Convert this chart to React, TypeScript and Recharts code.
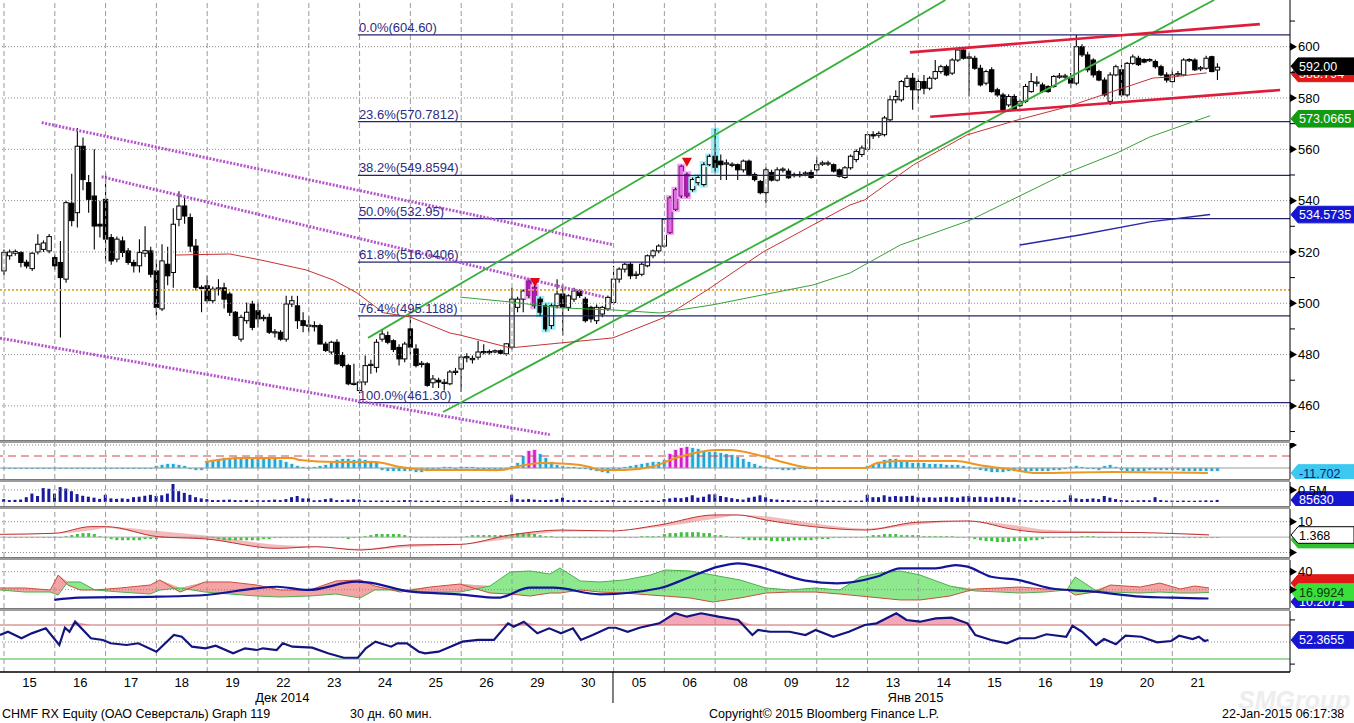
import React from 'react';
import { ComposedChart, Bar, Line, Area, XAxis, YAxis, ReferenceLine, ReferenceDot } from 'recharts';

const CHART_W = 1354;
const AXIS_W = 64;
const X_MIN = -0.71;
const X_MAX = 227.85;
const FONT = '"Liberation Sans", Arial, sans-serif';

// ---------- categories / labels ----------
const dayLabels = ['15', '16', '17', '18', '19', '22', '23', '24', '25', '26', '29', '30', '05', '06', '08', '09', '12', '13', '14', '15', '16', '19', '20', '21'];
const monthTicks = [49.3, 107.9, 161.5];
const monthText: Record<string, string> = { '49.3': 'Дек 2014', '161.5': 'Янв 2015' };
const mainTicks = [450, 460, 470, 480, 490, 500, 510, 520, 530, 540, 550, 560, 570, 580, 590, 600, 610];
const mainMajor = [460, 480, 500, 520, 540, 560, 580, 600];

// ---------- hourly candles [open, high, low, close], 9 per day ----------
const ohlc: number[][] = [
  // 15 Dec
  [512.6, 521, 511, 519.8], [518.5, 521, 517, 520], [519.5, 521, 518.5, 520.2], [519.8, 520.4, 514, 515.9], [516, 517, 513.5, 514.5], [513.5, 520, 512.6, 519.5], [520, 526.9, 519, 523], [521, 524.5, 520, 523.5], [520.4, 527, 519.5, 526],
  // 16
  [517.8, 519, 513, 514.6], [515.9, 524.3, 486.7, 510], [509.4, 540, 508, 539.2], [539, 550.5, 530, 532.2], [535.3, 568.3, 529.5, 561.2], [561.2, 564.6, 544, 548.2], [547, 550, 535.3, 540.5], [541.8, 560, 521, 530.1], [530.8, 540, 525.6, 530.1],
  // 17
  [540.5, 550.8, 515.9, 525], [525.6, 527, 515, 516.5], [517.2, 526, 516, 525], [524.3, 526, 518, 519.8], [520.4, 521.5, 515, 515.9], [515.9, 517, 512, 514.6], [514.6, 524.9, 512, 519.8], [519.5, 530, 518, 520.5], [520.4, 522, 510, 511.3],
  // 18
  [512.6, 517, 495.2, 498.4], [497.8, 523, 497, 516.5], [515.2, 522, 507, 510.7], [512, 537, 506, 530.8], [532.7, 543.7, 530, 537.9], [537.9, 542, 531, 534], [533.4, 535, 520, 522.3], [522.3, 525, 505, 506.2], [506.2, 507, 496.5, 506],
  // 19
  [506.8, 510.7, 500, 501], [501, 506.5, 500, 505.5], [505.5, 509.4, 503, 506], [506, 508, 498, 501.6], [503.6, 504.5, 495, 496.5], [496.5, 497, 487, 487.4], [486, 495.5, 485, 494.5], [493.2, 500.3, 492, 496.5], [499.7, 501, 489.5, 490.6],
  // 22
  [497.1, 500.3, 490.6, 493.9], [494, 495.5, 493, 494.5], [494.5, 496, 488, 488.7], [488.7, 490, 486.7, 488.9], [488.7, 489.5, 485.4, 486], [486, 502.9, 485, 499.7], [499.7, 502.9, 498.5, 501], [499, 502.9, 490, 493.2], [493.2, 496.5, 488.7, 491.3],
  // 23
  [491.3, 495, 488.7, 491.5], [491, 493, 489, 491.3], [491.3, 492, 484, 484.1], [484.1, 485, 481, 481.6], [481, 485.4, 480, 484.8], [484.8, 486, 476, 476.4], [479.6, 481, 475, 475.7], [475.7, 476.4, 468, 468.6], [468.6, 476.4, 467.9, 468.8],
  // 24
  [466, 470.5, 464.8, 469.3], [469.3, 479.6, 468, 475.7], [476, 478, 472.5, 476.2], [475, 486, 473, 484.8], [486, 490, 485, 488], [487.4, 489, 484, 484.8], [485.4, 486, 481, 482], [482.8, 484, 475.7, 478.3], [478.3, 485, 477, 484.1],
  // 25
  [490, 494.5, 479.6, 482.9], [482.2, 484, 475, 475.7], [476.4, 477.5, 475, 476.6], [476.4, 477, 467.5, 468], [469, 472, 467, 470.5], [470, 471, 467, 469.3], [469, 470.5, 466, 469.2], [468.6, 474, 468, 473.2], [473.2, 474.8, 472, 473.5],
  // 26
  [474.4, 480, 465.4, 479], [479, 480.5, 477, 479.2], [478, 479.6, 476.5, 478.5], [479, 485.4, 478, 481], [481, 484, 480, 481.2], [481, 482, 480, 481.2], [481, 482, 480.5, 481.5], [481.5, 482, 480, 480.5], [480.3, 484.5, 479.5, 484.2],
  // 29
  [482.9, 506, 482, 501.6], [498.4, 502.5, 496.5, 501.6], [501.6, 505.5, 496.5, 504.8], [508.7, 509.4, 502, 503], [506.2, 507, 498, 499], [501.6, 502.5, 495, 496.5], [499, 500, 489, 490], [491.3, 500, 490, 499], [499, 509.4, 498, 503.6],
  // 30
  [503.6, 507.4, 487.4, 498.4], [498.4, 503.5, 497, 502.9], [501.6, 506, 500.5, 504.8], [504.8, 505.5, 502, 503], [501.6, 502.5, 492.5, 493.2], [498.4, 499, 492.5, 493.9], [493.2, 499.5, 491.9, 498.4], [495.8, 499, 494.5, 498.4], [497.8, 503, 497, 502.3],
  // 05 Jan
  [500.3, 514.6, 499.5, 509.4], [509.4, 514, 508, 513.3], [513.3, 515.8, 512, 515.2], [515.2, 516, 509.4, 510.7], [511, 512.5, 509.5, 511.3], [511.3, 516, 510.5, 515.2], [514.6, 519, 514, 518.5], [518.5, 521, 517.5, 520.4], [520.4, 523, 519.5, 522.3],
  // 06
  [522.3, 533, 521.5, 532.7], [527.5, 541.8, 527, 541.1], [536.6, 545, 536, 544.3], [541.8, 554, 541, 553.4], [550.2, 551, 541, 541.8], [544.3, 549, 543.5, 548.2], [547, 550, 546, 549], [546.3, 555, 545.5, 554], [554, 558, 553.5, 557.3],
  // 08
  [557.3, 568, 551, 553], [555.4, 558, 548, 554], [554.5, 556, 548, 554.7], [554, 555, 553, 554.2], [554, 554.5, 548, 552], [552, 556, 551, 555.4], [555.4, 556, 549.5, 550.2], [550.2, 551, 547.5, 548.2], [547.5, 548, 542.5, 543.1],
  // 09
  [543.1, 553, 539.2, 552], [551, 552, 547.5, 548], [548, 553, 547.5, 552], [552, 553, 551, 552.3], [551.5, 552.5, 548.5, 548.9], [550, 551, 549, 550.2], [550, 551.5, 549, 550.2], [550.5, 551.5, 549.5, 550.8], [551, 552, 548.5, 549],
  // 12
  [552, 557, 551, 554], [554.2, 555.5, 553.5, 554.7], [554.5, 555.5, 553.5, 554.7], [554, 554.5, 551, 551.5], [552, 552.5, 549, 549.5], [549, 553.5, 548.5, 552.8], [552.8, 558, 552, 557.3], [556, 560, 555, 559.2], [558, 561.5, 557, 560.5],
  // 13
  [560, 567, 559, 565.7], [565.7, 567, 564, 565.5], [565.5, 567, 564.5, 566.2], [565.7, 573, 565, 572.2], [571.5, 581, 571, 579.3], [579.3, 583, 578, 580.6], [579.3, 587, 578.5, 586.4], [584.5, 589, 584, 587.7], [587.7, 589.7, 575.4, 583.2],
  // 14
  [583.2, 587.5, 578, 586.4], [586.4, 589, 581.5, 583.8], [583.8, 588.5, 583, 587.7], [587.7, 594.8, 587, 590.3], [590.3, 593, 589.5, 592.2], [592.2, 593, 588.5, 589], [589.7, 595.5, 589, 594.8], [594.8, 599, 594, 598.7], [598.7, 599.5, 595, 595.5],
  // 15
  [595.5, 597.5, 580.6, 596], [595.5, 596.5, 591, 591.6], [591.6, 593, 584.5, 585.1], [585.8, 591, 585, 590.3], [591, 592, 582, 582.5], [583.2, 584, 580.5, 581.2], [581.2, 582, 575, 575.4], [577.3, 581.5, 576.5, 580.6], [580.6, 581.5, 575, 575.4],
  // 16
  [577, 579.5, 576.5, 578.7], [578.7, 585.5, 578, 584.5], [582.5, 589.7, 582, 586.4], [586, 588.5, 584.5, 586.2], [585.1, 586, 582, 582.5], [584.5, 585, 582, 582.5], [584.5, 589, 584, 588.4], [588.4, 589.7, 587.5, 588.6], [588.4, 589.5, 587.5, 588.6],
  // 19
  [587.7, 589.7, 583.8, 585.8], [585.8, 604.6, 585, 600], [600, 601, 596, 596.8], [596.8, 598, 590, 591], [594.8, 595.5, 588, 589], [590.3, 591, 586.5, 587], [587, 588, 580.5, 581.2], [578.7, 590, 577.3, 589], [589, 593, 588.5, 592.2],
  // 20
  [591, 593, 580.5, 581.2], [581.2, 594, 580.5, 593.5], [593.5, 597, 593, 596], [595.5, 596.5, 592.5, 593], [595, 595.5, 593.5, 594], [594.8, 595.5, 594, 595], [594.2, 595, 591.5, 592.2], [592.2, 593, 588.5, 589], [589, 590, 586, 587],
  // 21
  [586.4, 591, 586, 589], [589, 590.5, 588.5, 589.5], [589, 595.5, 588.5, 594.8], [594.8, 595.5, 594, 595], [594.8, 595.5, 590.5, 591], [591.6, 592.5, 590.5, 591.8], [591.6, 596.5, 591, 595.5], [596.1, 596.5, 590, 590.3], [590.9, 593.5, 587, 592],
];
const magentaIdx = [93, 94, 118, 119, 120, 121];
const cyanIdx = [95, 96, 97, 122, 123, 124, 125, 126];

// ---------- overlays on price panel ----------
const fibLevels = [
  { v: 604.6, label: '0.0%(604.60)' },
  { v: 570.7812, label: '23.6%(570.7812)' },
  { v: 549.8594, label: '38.2%(549.8594)' },
  { v: 532.95, label: '50.0%(532.95)' },
  { v: 516.0406, label: '61.8%(516.0406)' },
  { v: 495.1188, label: '76.4%(495.1188)' },
  { v: 461.3, label: '100.0%(461.30)' },
];
const fibStart = 62.7;
const orangeLevel = 505.2;
const purpleLines = [
  [[6.68, 570.4], [107.7, 522.9]],
  [[17.3, 549.3], [106.5, 502.3]],
  [[-0.71, 486.4], [96.7, 448.8]],
];
const greenChannel = [
  [[64.5, 486.5], [166.8, 618.2]],
  [[77.8, 457.6], [214.4, 618.2]],
];
const redChannel = [
  [[160.5, 597.8], [222.5, 608.8]],
  [[164.1, 572.7], [226.1, 583.1]],
];
const redMA = [[30.5, 518.8], [40.0, 519.2], [45.4, 516.9], [53.5, 513.0], [58.3, 509.1], [62.5, 504.1], [67.2, 496.3], [71.9, 494.7], [79.0, 488.4], [80.8, 487.6], [89.7, 482.6], [98.5, 484.5], [107.9, 486.5], [116.8, 494.3], [124.6, 505.2], [134.5, 520.0], [143.3, 530.5], [149.9, 538.3], [152.5, 540.3], [161.1, 553.9], [170.6, 565.6], [179.5, 571.4], [188.3, 576.5], [197.2, 583.1], [203.6, 587.8], [207.1, 588.2], [213.1, 589.8]];
const greenMA = [[80.8, 502.4], [89.7, 500.5], [98.5, 498.2], [107.9, 497.4], [116.2, 496.2], [125.6, 499.4], [134.5, 503.3], [143.3, 507.1], [149.9, 511.8], [158.8, 522.7], [171.2, 532.4], [188.3, 550.8], [197.2, 558.6], [203.0, 564.8], [213.7, 573.1]];
const blueMA = [[180.0, 522.7], [190.6, 526.6], [203.0, 531.7], [213.7, 534.6]];
const signalMarks = [[94.1, 507.9], [121.0, 554.8]];

// ---------- oscillator panel (histogram + signal) ----------
const oscHist = [
  0, 0, 0, 0, 0, 0, 0, 0, 0,
  0, 0, 0, 0, 0, 0, 0, 0, 0,
  0, 0, 0, 0, 0, 0, 0, 0, 0,
  2, 3, 4, 4, 3, 2, -1, -2, -2,
  6, 8, 9, 10, 10, 11, 10, 11, 9,
  9, 10, 10, 9, 8, 6, 4, 2, 1,
  0, 1, 2, 3, 5, 8, 9, 9, 8,
  9, 8, 7, 5, -2, -3, -3, -3, -3,
  -3, -4, -4, -3, -1, 0, 1, 1, 0,
  1, 1, 1, -1, -2, -3, -3, -2, -1,
  2, 5, 12, 17, 18, 14, 10, 6, 3,
  2, 1, 1, 0, -1, -2, -3, -4, -5,
  -3, -1, 1, 2, 3, 4, 5, 6, 6,
  8, 14, 18, 20, 21, 20, 19, 17, 16,
  16, 15, 14, 13, 11, 9, 6, 4, 2,
  1, 0, -1, -2, -2, -2, -1, -1, 0,
  0.5, 0.5, 0.5, 0.5, 0.5, 0.5, 0.5, 0.5, 0.5,
  2, 4, 6, 8, 9, 9, 8, 6, 5,
  5, 5, 4, 4, 4, 3, 3, 3, 2,
  1, 0, -2, -3, -4, -4, -4, -3, -3,
  -4, -4, -3, -3, -3, -3, -2, -2, -1,
  1, 2, 1, 0, -1, -2, 2, 3, 1,
  -2, -3, -3, -3, -3, -2, -2, -2, -2,
  -2, -2, -3, -3, -3, -3, -3, -3, -3,
];
const oscSignal = [[35.6, 6], [41.8, 10], [51.0, 10], [52.4, 8], [58.8, 6], [65.7, 6], [70.2, 1], [75.5, -2], [87.9, -2], [91.4, 2], [95.1, 5], [100.3, 4], [103.8, 1], [105.6, -2], [109.9, -2], [114.6, 1], [119.6, 11], [126.0, 18], [128.6, 18], [133.6, 13], [138.6, 5], [143.3, 0], [152.6, 0], [154.7, 5], [158.8, 7], [168.7, 7], [172.7, 3], [179.1, -2], [182.7, -5], [196.7, -4], [213.3, -5]];

// ---------- volume (thousands) ----------
const volume = [
  120, 80, 90, 100, 200, 350, 250, 580, 550,
  350, 620, 560, 450, 330, 260, 220, 180, 130,
  300, 150, 130, 150, 130, 200, 220, 260, 300,
  250, 280, 350, 750, 450, 380, 300, 200, 150,
  120, 80, 80, 90, 100, 80, 70, 90, 60,
  80, 70, 80, 100, 80, 120, 200, 250, 150,
  150, 70, 80, 120, 150, 80, 80, 100, 120,
  100, 60, 60, 60, 60, 60, 50, 60, 80,
  80, 60, 50, 50, 50, 60, 40, 30, 40,
  40, 50, 60, 50, 40, 40, 30, 40, 40,
  300, 120, 100, 120, 100, 80, 80, 90, 120,
  180, 80, 70, 80, 70, 60, 50, 60, 70,
  80, 50, 60, 50, 60, 50, 60, 70, 50,
  120, 150, 180, 160, 200, 280, 180, 220, 320,
  320, 250, 200, 160, 120, 100, 180, 220, 280,
  200, 120, 100, 80, 80, 70, 60, 50, 60,
  100, 60, 60, 60, 50, 50, 60, 50, 60,
  300, 200, 200, 280, 220, 250, 230, 250, 260,
  200, 180, 200, 180, 200, 220, 200, 180, 230,
  250, 200, 220, 200, 180, 220, 200, 200, 180,
  100, 80, 80, 60, 80, 80, 60, 70, 80,
  280, 150, 120, 130, 150, 120, 250, 180, 120,
  80, 70, 60, 70, 80, 70, 200, 80, 60,
  60, 50, 60, 50, 50, 60, 70, 60, 86,
];

// ---------- MACD panel ----------
const macdHist = [
  0, 0, 0, 0, 0, 0, 0, 0, 0,
  0, 0, 0.6, 1.3, 2, 2.6, 2.6, 2, 0.6,
  -0.6, -1.3, -2, -2, -2, -2, -2, -1.3, -1.3,
  -1.3, -0.6, 0, 0, 0, 0, 0, 0, 0,
  0, -0.6, -1.3, -2, -2, -2, -2, -2, -2,
  -2, -1.3, -1.3, -0.6, -0.6, -0.6, -0.6, 0, 0,
  0, 0, 0, 0, 0, 0, -0.6, -1.3, -0.6,
  0, 0.6, 1.3, 2, 2, 2, 2, 2, 1.3,
  0.6, 0, 0, 0, 0, 0, 0, 0, 0,
  0, 0.6, 1.3, 1.3, 1.3, 1.3, 1.3, 1.3, 1.3,
  2, 2.6, 2.6, 2.6, 2, 1.3, 0.6, 0.6, 0,
  0, -0.6, -0.6, -0.6, -0.6, -0.6, -0.6, -0.6, -0.6,
  0, 0, 0, 0, 0, 0.6, 0.6, 0.6, 0.6,
  2, 2.6, 2.6, 3.2, 3.2, 3.2, 3.2, 2.6, 2.6,
  1.3, 1.3, 0.6, 0, -0.6, -1.3, -2, -2, -2,
  -2, -2.6, -2.6, -2.6, -2.6, -2, -2, -2, -2,
  -1.3, -1.3, -1.3, -0.6, -0.6, -0.6, 0, 0, 0,
  0.6, 1.3, 1.3, 2, 2, 2, 1.3, 1.3, 1.3,
  1.3, 0.6, 0.6, 0.6, 0.6, 0.6, 0.6, 0, 0,
  -0.6, -1.3, -2, -2.6, -2.6, -3.2, -3.2, -3.2, -2.6,
  -2.6, -2.6, -2, -2, -1.3, -0.6, -0.6, 0, 0,
  0, 0, 0.6, 0.6, 0.6, 0, 0, 0, 0,
  0, 0, 0, 0, -0.6, -0.6, -0.6, 0, 0,
  0, 0, 0, -0.6, -0.6, -0.6, -0.6, -0.6, -0.6,
];
const macdLines = [[-0.7, 1.8, 2.0], [9.0, 2.5, 2.2], [15.4, 6.8, 4.5], [18.1, 6.8, 6.0], [27.3, 0.3, 4.0], [35.8, -1.2, 1.0], [48.4, -7.3, -5.0], [55.3, -6.2, -6.5], [63.1, -8.4, -7.5], [71.8, -5.1, -6.5], [80.8, -4.7, -5.0], [89.7, 1.4, -1.0], [98.7, 4.6, 3.5], [107.6, 4.0, 4.2], [116.1, 7.9, 6.5], [126.0, 14.4, 12.0], [130.1, 14.4, 14.0], [135.0, 11.1, 13.5], [143.3, 6.8, 9.0], [152.6, 4.6, 5.5], [161.6, 9.6, 8.0], [170.8, 10.5, 10.3], [179.5, 4.6, 7.5], [184.1, 3.1, 5.0], [197.4, 3.1, 3.5], [213.5, 1.4, 2.0]];

// ---------- DMI panel [i, DI+, DI-] and ADX ----------
const dmiLines = [[-0.7, 19.7, 21.9], [3.7, 17.4, 21.9], [8.2, 17.4, 19.7], [9.6, 14.1, 36.3], [11.3, 28.6, 25.2], [13.5, 28.6, 19.7], [16.1, 19.7, 19.7], [20.6, 17.4, 21.9], [25.9, 15.2, 25.2], [27.6, 19.7, 30.8], [31.2, 21.9, 17.4], [35.6, 17.4, 28.6], [40.0, 15.2, 28.6], [44.8, 13.0, 25.2], [48.9, 11.9, 19.7], [54.2, 13.0, 19.7], [58.8, 15.2, 29.7], [63.1, 10.8, 30.8], [65.7, 19.7, 24.1], [70.2, 19.7, 17.4], [75.5, 17.4, 23.0], [80.8, 17.4, 26.3], [86.1, 24.1, 16.3], [89.7, 39.7, 15.2], [93.2, 40.8, 13.0], [96.7, 37.4, 16.3], [98.5, 44.1, 16.3], [102.1, 29.7, 19.7], [105.6, 28.6, 17.4], [110.0, 30.8, 16.3], [114.5, 36.3, 14.1], [117.1, 41.9, 13.0], [121.5, 40.8, 10.8], [125.6, 36.3, 6.3], [130.4, 30.8, 10.8], [135.0, 21.9, 16.3], [139.3, 19.7, 17.4], [143.7, 21.9, 17.4], [148.1, 19.7, 15.2], [151.7, 34.1, 13.0], [155.2, 38.6, 10.8], [158.8, 40.8, 8.6], [162.3, 36.3, 8.6], [167.6, 24.1, 13.0], [172.0, 18.6, 20.8], [176.5, 17.4, 21.9], [180.0, 16.3, 23.0], [184.4, 17.4, 20.8], [188.3, 19.7, 19.7], [189.8, 34.1, 14.1], [193.3, 19.7, 17.4], [196.0, 17.4, 25.2], [201.3, 16.3, 23.0], [204.8, 17.4, 27.4], [208.4, 16.3, 20.8], [211.0, 16.3, 24.1], [213.5, 17.0, 21.9]];
const adx = [[8.9, 8.6], [13.3, 11.1], [27.3, 12.2], [35.7, 14.1], [44.8, 21.6], [48.4, 23.3], [53.9, 19.7], [62.4, 28.9], [64.4, 28.2], [72.1, 17.8], [80.5, 14.9], [87.5, 11.1], [93.2, 22.2], [97.3, 22.2], [105.6, 14.9], [116.1, 21.6], [121.0, 32.7], [126.6, 45.6], [130.1, 49.3], [133.6, 45.6], [142.0, 30.0], [147.6, 27.1], [154.6, 34.4], [158.8, 43.8], [165.1, 43.8], [168.6, 47.4], [170.7, 45.6], [174.9, 34.4], [179.8, 30.7], [185.4, 21.6], [193.1, 17.8], [201.5, 12.2], [207.1, 11.1], [213.4, 10.2]];

// ---------- RSI ----------
const rsi = [[-0.7, 58.2], [0.7, 62.1], [3.1, 54.4], [4.9, 60.2], [7.4, 66.1], [9.8, 46.5], [10.8, 66.8], [11.6, 62.1], [12.6, 73.9], [15.4, 54.4], [17.5, 52.4], [18.9, 48.5], [21.7, 46.5], [23.8, 48.5], [27.0, 38.6], [30.1, 58.2], [31.5, 56.2], [33.3, 44.5], [35.7, 42.6], [37.5, 45.7], [40.6, 36.7], [42.7, 42.6], [44.8, 40.6], [45.9, 42.6], [48.3, 40.6], [49.4, 48.5], [51.1, 44.5], [54.6, 43.3], [57.4, 36.7], [60.2, 31.5], [62.7, 31.5], [64.1, 42.6], [65.8, 50.4], [68.6, 44.5], [69.7, 48.5], [71.4, 48.5], [73.5, 38.6], [74.6, 36.7], [77.0, 38.6], [79.1, 44.5], [81.2, 50.4], [84.0, 52.4], [86.8, 52.4], [89.3, 72.0], [90.3, 68.0], [92.1, 73.9], [94.5, 60.2], [96.6, 66.1], [98.7, 60.2], [100.8, 66.1], [102.2, 52.4], [104.3, 58.2], [107.1, 66.8], [108.4, 66.8], [110.5, 62.1], [112.6, 66.8], [116.1, 72.0], [118.9, 83.8], [121.0, 79.8], [123.5, 83.8], [126.6, 79.8], [130.1, 75.9], [132.6, 58.2], [133.6, 64.1], [135.7, 62.1], [139.2, 62.1], [142.0, 58.2], [143.8, 64.1], [146.9, 56.2], [149.7, 62.1], [152.5, 70], [154.6, 72.0], [158.1, 83.8], [159.9, 75.9], [162.3, 73.9], [165.1, 77.9], [167.9, 78.6], [170.7, 72.0], [172.1, 58.2], [174.9, 52.4], [177.7, 48.5], [179.8, 54.4], [182.6, 54.4], [184.7, 59.1], [188.2, 56.2], [189.3, 69.2], [191.0, 62.1], [193.5, 46.5], [194.9, 53.5], [197.0, 47.3], [198.7, 57.4], [201.5, 56.2], [204.3, 49.7], [206.8, 51.2], [208.2, 57.4], [210.6, 53.5], [211.7, 56.2], [212.7, 51.2], [213.4, 52.4]];

// ---------- derived tables ----------
const candles = ohlc.map(([o, h, l, c], i) => ({ i, o, h, l, c, hl: magentaIdx.includes(i) ? 'm' : cyanIdx.includes(i) ? 'c' : '' }));
const toPts = (arr: number[][]) => arr.map(([i, v]) => ({ i, v }));
const oscData = oscHist.map((v, i) => ({ i, v, hl: magentaIdx.includes(i) ? 'm' : '' }));
const volData = volume.map((v, i) => ({ i, v }));
const macdHistData = macdHist.map((v, i) => ({ i, v }));
const macdData = macdLines.map(([i, m, s]) => ({ i, m, s }));
const dmiData = dmiLines.map(([i, p, m]) => ({ i, p, m }));
const rsiData = toPts(rsi);
const dayTicks = dayLabels.map((_, k) => 9 * k + 4.5);
const gridX = dayLabels.map((_, k) => 9 * k);

// ---------- drawing helpers ----------
const BODY_W = 4.4;
const CandleShape = (props: any) => {
  const { x, y, width, height, payload } = props;
  if (!payload) return null;
  const { o, h, l, c, hl } = payload;
  const k = h > l ? height / (h - l) : 0;
  const yo = y + (h - o) * k;
  const yc = y + (h - c) * k;
  const cx = x + width / 2;
  const top = Math.min(yo, yc);
  const bh = Math.max(Math.abs(yc - yo), 1.2);
  const up = c >= o;
  let fill = up ? '#ffffff' : '#000000';
  if (hl === 'm') fill = up ? '#e070e0' : '#b01cb0';
  return (
    <g>
      {hl && <rect x={cx - BODY_W / 2 - 2} y={y - 1} width={BODY_W + 4} height={height + 2} fill={hl === 'm' ? '#f2a6f2' : '#9feef6'} />}
      <line x1={cx} x2={cx} y1={y} y2={y + height} stroke="#000" strokeWidth={1.1} />
      <rect x={cx - BODY_W / 2} y={top} width={BODY_W} height={bh} fill={fill} stroke={hl === 'm' ? '#8a108a' : '#000'} strokeWidth={1} />
    </g>
  );
};

const OscShape = (props: any) => {
  const { x, y, width, height, payload } = props;
  if (height === undefined || isNaN(height)) return null;
  const top = height < 0 ? y + height : y;
  const hh = Math.max(Math.abs(height), 0.8);
  const cx = x + width / 2;
  const m = payload && payload.hl === 'm';
  return (
    <g>
      <rect x={cx - 2.4} y={top - 0.5} width={4.8} height={hh + 1} fill={m ? '#f6b8f2' : '#c4eefa'} />
      <rect x={cx - 1.3} y={top} width={2.6} height={hh} fill={m ? '#d21ec8' : '#22a6d6'} />
    </g>
  );
};

const SimpleBar = (color: string, w: number) => (props: any) => {
  const { x, y, width, height } = props;
  if (height === undefined || isNaN(height)) return null;
  const top = height < 0 ? y + height : y;
  const hh = Math.max(Math.abs(height), 0.8);
  return <rect x={x + width / 2 - w / 2} y={top} width={w} height={hh} fill={color} />;
};

const Tag = ({ cx, cy, text, bg, fg, border }: any) => {
  const x = cx + 1;
  const hh = 8.3;
  return (
    <g>
      <path d={`M${x},${cy} L${x + 7},${cy - hh} L${x + 63},${cy - hh} L${x + 63},${cy + hh} L${x + 7},${cy + hh} Z`} fill={bg} stroke={border || bg} strokeWidth={1} />
      <text x={x + 8} y={cy + 4.5} fill={fg} fontSize={12.5} fontFamily={FONT}>{text}</text>
    </g>
  );
};

const makeTick = (major: number[], labels: Record<number, string>) => (props: any) => {
  const { x, y, payload } = props;
  const v = payload.value;
  if (major.includes(v)) {
    return (
      <g>
        <path d={`M${x},${y - 4} L${x + 7},${y} L${x},${y + 4} Z`} fill="#000" />
        {labels[v] !== undefined && <text x={x + 8} y={y + 4.6} fontSize={13} fontFamily={FONT} fill="#000">{labels[v]}</text>}
      </g>
    );
  }
  return <line x1={x} x2={x + 5} y1={y} y2={y} stroke="#000" />;
};

const mainLabels: Record<number, string> = {};
mainMajor.forEach((v) => { mainLabels[v] = String(v); });

const vGrid = (p: string) => gridX.map((gx) => (
  <ReferenceLine key={`${p}-vg-${gx}`} x={gx} stroke="#9a9a9a" strokeDasharray="5 3" ifOverflow="hidden" />
));
const hLine = (key: string, y: number, stroke: string, dash?: string, w = 1) => (
  <ReferenceLine key={key} y={y} stroke={stroke} strokeDasharray={dash} strokeWidth={w} ifOverflow="hidden" />
);
const tag = (key: string, y: number, text: string, bg: string, fg: string, border?: string) => (
  <ReferenceDot key={key} x={X_MAX} y={y} r={1} ifOverflow="visible" shape={(p: any) => <Tag cx={p.cx} cy={p.cy} text={text} bg={bg} fg={fg} border={border} />} />
);

const xAxisHidden = <XAxis dataKey="i" type="number" domain={[X_MIN, X_MAX]} allowDataOverflow hide />;
const margin = { top: 0, right: 0, bottom: 0, left: 0 };

const DayTick = (props: any) => {
  const { x, y, payload } = props;
  const k = Math.round((payload.value - 4.5) / 9);
  return <text x={x} y={y + 14.5} textAnchor="middle" fontSize={13} fontFamily={FONT} fill="#000">{dayLabels[k]}</text>;
};
const MonthTick = (props: any) => {
  const { x, y, payload } = props;
  const t = monthText[String(payload.value)];
  if (!t) return <line x1={x} x2={x} y1={y - 16} y2={y + 15} stroke="#000" strokeWidth={1} />;
  return <text x={x} y={y + 13.5} textAnchor="middle" fontSize={13} fontFamily={FONT} fill="#000">{t}</text>;
};

const Sep = ({ top }: { top: number }) => (
  <div style={{ position: 'absolute', left: 0, top, width: 1290, height: 3, background: '#9c9c9c', borderTop: '1px solid #7a7a7a', boxSizing: 'border-box' }} />
);

const footer = { position: 'absolute' as const, top: 707, fontSize: 12.5, fontFamily: FONT, color: '#000', whiteSpace: 'nowrap' as const, lineHeight: '15px' };
const lineProps = { dot: false, activeDot: false, isAnimationActive: false, legendType: 'none' as const };

export default function App() {
  return (
    <div style={{ position: 'absolute', left: 0, top: 0, width: CHART_W, height: 723, background: '#fff', overflow: 'hidden' }}>
      <div style={{ position: 'absolute', left: 1238, top: 686, fontSize: 25, fontWeight: 'bold', fontStyle: 'italic', fontFamily: FONT, color: '#ededed' }}>SMGroup</div>

      {/* price panel */}
      <div style={{ position: 'absolute', left: 0, top: 0 }}>
        <ComposedChart width={CHART_W} height={440} data={candles} margin={margin}>
          {xAxisHidden}
          <YAxis orientation="right" width={AXIS_W} domain={[446.7, 618.2]} allowDataOverflow ticks={mainTicks} interval={0} tickSize={0} tickMargin={0} tickLine={false} axisLine={{ stroke: '#000' }} tick={makeTick(mainMajor, mainLabels)} />
          {vGrid('m')}
          {mainMajor.map((v) => hLine(`mg${v}`, v, '#8a8a8a', '1 2'))}
          {hLine('orange', orangeLevel, '#f0a028', '2 2', 1.6)}
          {fibLevels.map((f) => (
            <ReferenceLine key={`fib${f.v}`} segment={[{ x: fibStart, y: f.v }, { x: X_MAX, y: f.v }]} stroke="#24246e" strokeWidth={1.2} ifOverflow="hidden" />
          ))}
          {purpleLines.map((s, k) => (
            <ReferenceLine key={`pl${k}`} segment={[{ x: s[0][0], y: s[0][1] }, { x: s[1][0], y: s[1][1] }]} stroke="#b554cc" strokeWidth={3} strokeDasharray="2 1.5" ifOverflow="hidden" />
          ))}
          {greenChannel.map((s, k) => (
            <ReferenceLine key={`gc${k}`} segment={[{ x: s[0][0], y: s[0][1] }, { x: s[1][0], y: s[1][1] }]} stroke="#38b03c" strokeWidth={1.8} ifOverflow="hidden" />
          ))}
          {redChannel.map((s, k) => (
            <ReferenceLine key={`rc${k}`} segment={[{ x: s[0][0], y: s[0][1] }, { x: s[1][0], y: s[1][1] }]} stroke="#e01c3c" strokeWidth={2.6} ifOverflow="hidden" />
          ))}
          <Line data={toPts(redMA)} dataKey="v" type="linear" stroke="#c83232" strokeWidth={1} {...lineProps} />
          <Line data={toPts(greenMA)} dataKey="v" type="linear" stroke="#3aa03a" strokeWidth={1} {...lineProps} />
          <Line data={toPts(blueMA)} dataKey="v" type="linear" stroke="#2828a8" strokeWidth={1.3} {...lineProps} />
          <Bar dataKey={(d: any) => [d.l, d.h]} barSize={5} shape={CandleShape} activeBar={false} isAnimationActive={false} />
          {signalMarks.map(([i, v], k) => (
            <ReferenceDot key={`sm${k}`} x={i} y={v} r={1} ifOverflow="visible" shape={(p: any) => <path d={`M${p.cx - 5},${p.cy - 5} L${p.cx + 5},${p.cy - 5} L${p.cx},${p.cy + 4} Z`} fill="#e00a0a" />} />
          ))}
          {fibLevels.map((f) => (
            <ReferenceDot key={`fl${f.v}`} x={fibStart} y={f.v} r={1} ifOverflow="visible" shape={(p: any) => <text x={p.cx + 1} y={p.cy - 3} fontSize={13} fontFamily={FONT} fill="#2c2c84">{f.label}</text>} />
          ))}
          {tag('t-blue', 534.57, '534.5735', '#1616d2', '#fff')}
          {tag('t-green', 571.9, '573.0665', '#129a12', '#fff')}
          {tag('t-red', 589.6, '588.794', '#e01818', '#fff')}
          {tag('t-black', 592.4, '592.00', '#000', '#fff')}
        </ComposedChart>
      </div>
      <Sep top={440} />

      {/* oscillator panel */}
      <div style={{ position: 'absolute', left: 0, top: 443 }}>
        <ComposedChart width={CHART_W} height={36} data={oscData} margin={margin}>
          {xAxisHidden}
          <YAxis orientation="right" width={AXIS_W} domain={[-11, 25]} allowDataOverflow ticks={[23]} interval={0} tickSize={0} tickMargin={0} tickLine={false} axisLine={{ stroke: '#000' }} tick={makeTick([23], {})} />
          {vGrid('o')}
          {hLine('o-top', 23, '#8a8a8a', '1 2')}
          {hLine('o-red', 12, '#d04848', '8 5')}
          {hLine('o-zero', 0, '#9a9a9a')}
          <Bar dataKey="v" barSize={4} shape={OscShape} activeBar={false} isAnimationActive={false} />
          <Line data={toPts(oscSignal)} dataKey="v" type="monotone" stroke="#f0961e" strokeWidth={2} {...lineProps} />
          {tag('t-osc', -5, '-11.702', '#3cc8f0', '#10207a')}
        </ComposedChart>
      </div>
      <Sep top={479} />

      {/* volume panel */}
      <div style={{ position: 'absolute', left: 0, top: 482 }}>
        <ComposedChart width={CHART_W} height={24} data={volData} margin={margin}>
          {xAxisHidden}
          <YAxis orientation="right" width={AXIS_W} domain={[-167, 833]} allowDataOverflow ticks={[500]} interval={0} tickSize={0} tickMargin={0} tickLine={false} axisLine={{ stroke: '#000' }} tick={makeTick([500], { 500: '0.5M' })} />
          {vGrid('v')}
          {hLine('v-half', 500, '#8a8a8a', '1 2')}
          <Bar dataKey="v" barSize={3} shape={SimpleBar('#1a1a9c', 3)} activeBar={false} isAnimationActive={false} />
          {tag('t-vol', 86, '85630', '#1616d2', '#fff')}
        </ComposedChart>
      </div>
      <Sep top={506} />

      {/* MACD panel */}
      <div style={{ position: 'absolute', left: 0, top: 509 }}>
        <ComposedChart width={CHART_W} height={48} data={macdHistData} margin={margin}>
          {xAxisHidden}
          <YAxis orientation="right" width={AXIS_W} domain={[-12.9, 18.25]} allowDataOverflow ticks={[10, -10]} interval={0} tickSize={0} tickMargin={0} tickLine={false} axisLine={{ stroke: '#000' }} tick={makeTick([10, -10], { 10: '10' })} />
          {vGrid('d')}
          {hLine('d-10', 10, '#8a8a8a', '1 2')}
          {hLine('d-m10', -10, '#8a8a8a', '1 2')}
          {hLine('d-0', 0, '#a8a8a8')}
          <Area data={macdData} dataKey={(d: any) => [Math.min(d.m, d.s), Math.max(d.m, d.s)]} type="monotone" stroke="none" fill="#f4b4b4" fillOpacity={0.9} activeDot={false} isAnimationActive={false} />
          <Bar dataKey="v" barSize={3} shape={SimpleBar('#3cc43c', 3)} activeBar={false} isAnimationActive={false} />
          <Line data={macdData} dataKey="m" type="monotone" stroke="#c03030" strokeWidth={1} {...lineProps} />
          {tag('t-sig', -1.6, '', '#30c030', '#fff')}
          {tag('t-macd', 1.37, '1.368', '#ffffff', '#000', '#000')}
        </ComposedChart>
      </div>
      <Sep top={557} />

      {/* DMI panel */}
      <div style={{ position: 'absolute', left: 0, top: 560 }}>
        <ComposedChart width={CHART_W} height={48} data={dmiData} margin={margin}>
          {xAxisHidden}
          <YAxis orientation="right" width={AXIS_W} domain={[-0.33, 53]} allowDataOverflow ticks={[40, 20]} interval={0} tickSize={0} tickMargin={0} tickLine={false} axisLine={{ stroke: '#000' }} tick={makeTick([40, 20], { 40: '40' })} />
          {vGrid('x')}
          {hLine('x-40', 40, '#8a8a8a', '1 2')}
          {hLine('x-20', 20, '#8a8a8a', '1 2')}
          <Area dataKey={(d: any) => [d.m, Math.max(d.p, d.m)]} type="linear" stroke="none" fill="#8ee88e" fillOpacity={1} activeDot={false} isAnimationActive={false} />
          <Area dataKey={(d: any) => [d.p, Math.max(d.p, d.m)]} type="linear" stroke="none" fill="#f4a4a4" fillOpacity={1} activeDot={false} isAnimationActive={false} />
          <Line dataKey="p" type="linear" stroke="#4cb04c" strokeWidth={1} {...lineProps} />
          <Line dataKey="m" type="linear" stroke="#c8503c" strokeWidth={1} {...lineProps} />
          <Line data={toPts(adx)} dataKey="v" type="monotone" stroke="#14149a" strokeWidth={2.2} {...lineProps} />
          {tag('t-dmin', 27.4, '', '#e01818', '#fff')}
          {tag('t-adx', 6.6, '10.2071', '#1616d2', '#fff')}
          {tag('t-dplus', 17.4, '16.9924', '#3ae03a', '#0a3a0a')}
        </ComposedChart>
      </div>
      <Sep top={608} />

      {/* RSI panel with the time axis */}
      <div style={{ position: 'absolute', left: 0, top: 611 }}>
        <ComposedChart width={CHART_W} height={95} data={rsiData} margin={margin}>
          <XAxis dataKey="i" type="number" domain={[X_MIN, X_MAX]} allowDataOverflow ticks={dayTicks} interval={0} height={16} tickSize={0} tickMargin={0} tickLine={false} axisLine={{ stroke: '#000', strokeWidth: 1.5 }} tick={DayTick} />
          <XAxis xAxisId="month" dataKey="i" type="number" domain={[X_MIN, X_MAX]} allowDataOverflow ticks={monthTicks} interval={0} height={18} tickSize={0} tickMargin={0} tickLine={false} axisLine={false} tick={MonthTick} />
          <YAxis orientation="right" width={AXIS_W} domain={[14.7, 86.5]} allowDataOverflow ticks={[76, 24]} interval={0} tickSize={0} tickMargin={0} tickLine={false} axisLine={{ stroke: '#000' }} tick={makeTick([], {})} />
          {vGrid('r')}
          {hLine('r-70', 70, '#c86464', undefined, 1)}
          {hLine('r-50', 50, '#8a8a8a', '1 2')}
          {hLine('r-30', 30, '#7ccf7c', undefined, 1.6)}
          <Area dataKey={(d: any) => [70, Math.max(70, d.v)]} type="linear" stroke="none" fill="#f2a8b8" fillOpacity={1} activeDot={false} isAnimationActive={false} />
          <Line dataKey="v" type="linear" stroke="#14147e" strokeWidth={2.2} {...lineProps} />
          {tag('t-rsi', 52.4, '52.3655', '#1616d2', '#fff')}
        </ComposedChart>
      </div>

      <div style={{ ...footer, left: 2 }}>CHMF RX Equity (ОАО Северсталь) Graph 119</div>
      <div style={{ ...footer, left: 350 }}>30 дн. 60 мин.</div>
      <div style={{ ...footer, left: 709 }}>Copyright© 2015 Bloomberg Finance L.P.</div>
      <div style={{ ...footer, left: 1222 }}>22-Jan-2015 06:17:38</div>
    </div>
  );
}
